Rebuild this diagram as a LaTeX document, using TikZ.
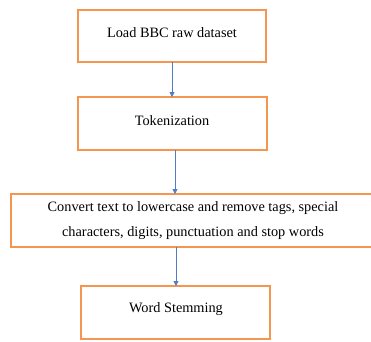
\documentclass[tikz,border=0pt]{standalone}
\usepackage{fontspec}
\setmainfont{Liberation Serif}
\usetikzlibrary{arrows.meta}
\definecolor{boxorange}{RGB}{244,150,80}
\definecolor{arrowblue}{RGB}{80,125,195}
\tikzset{
  stepbox/.style={draw=boxorange, line width=2pt},
  lbl/.style={font=\fontsize{14.3}{25}\selectfont, align=center, inner sep=0pt},
  flow/.style={draw=arrowblue, line width=0.8pt, -{Triangle[length=5pt,width=5pt]}}
}
\begin{document}
\begin{tikzpicture}[x=1pt,y=-1pt]
\clip (0,0) rectangle (371,341);
\fill[white] (0,0) rectangle (371,341);
% boxes
\draw[stepbox] (78,10) rectangle (266,62);
\coordinate (b1) at (172,62);
\draw[stepbox] (78,97) rectangle (267,150);
\coordinate (b2t) at (172,97);
\coordinate (b2) at (175,150);
\draw[stepbox] (11,194) rectangle (380,247);
\coordinate (b3t) at (175,194);
\coordinate (b3) at (176,247);
\draw[stepbox] (81,286) rectangle (270,339);
\coordinate (b4t) at (176,286);
% texts
\node[lbl] (t1) at (172,33) {Load BBC raw dataset};
\node[lbl] (t2) at (172,121) {Tokenization};
\node[lbl] (t3) at (193,221) {Convert text to lowercase and remove tags, special\\characters, digits, punctuation and stop words};
\node[lbl] (t4) at (176,309) {Word Stemming};
% arrows
\draw[flow] (b1) -- (b2t);
\draw[flow] (b2) -- (b3t);
\draw[flow] (b3) -- (b4t);
\end{tikzpicture}
\end{document}
